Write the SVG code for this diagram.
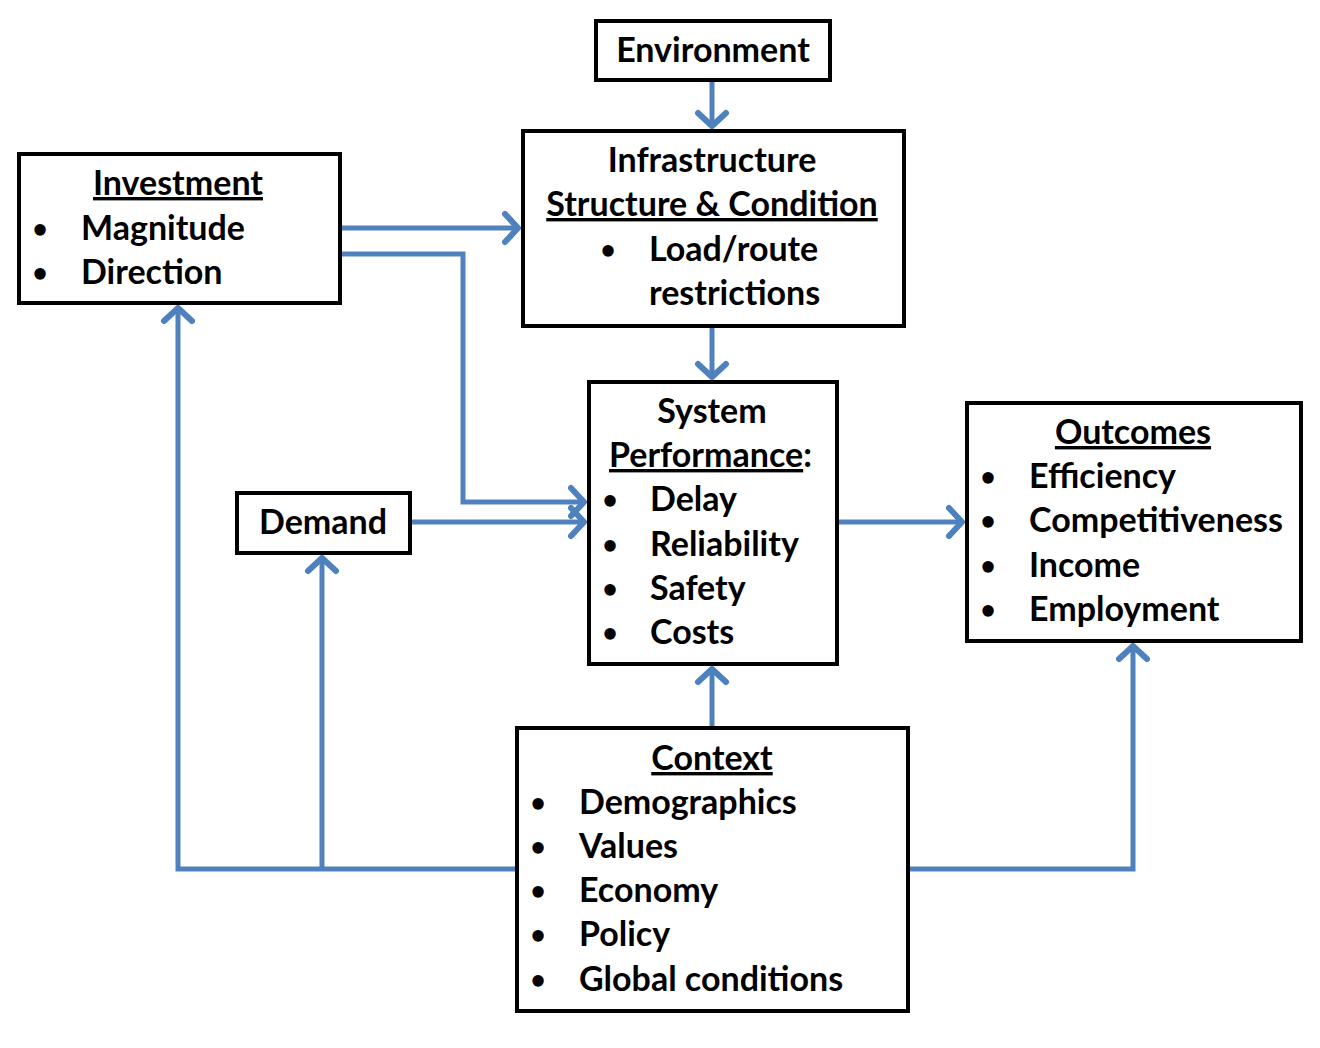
<svg xmlns="http://www.w3.org/2000/svg" width="1320" height="1048" viewBox="0 0 1320 1048">
<defs>
<style>
.box{fill:#fff;stroke:#000;stroke-width:4}
text{font-family:Lato,"Open Sans",sans-serif;font-weight:bold;font-size:34px;fill:#000}
.c{text-anchor:middle}
.u{text-decoration:underline}
.b{font-size:26px;text-anchor:middle}
.con{fill:none;stroke:#4F81BD;stroke-width:5;stroke-linejoin:miter}
</style>
<marker id="ah" markerUnits="userSpaceOnUse" markerWidth="30" markerHeight="40" refX="18" refY="16" orient="auto" viewBox="0 0 30 32">
<polyline points="4,2 17,16 4,30" fill="none" stroke="#4F81BD" stroke-width="6" stroke-linecap="round" stroke-linejoin="round"/>
</marker>
</defs>
<rect width="1320" height="1048" fill="#fff"/>
<g id="connectors">
<path class="con" d="M712,80 V127" marker-end="url(#ah)"/>
<path class="con" d="M340,228 H519" marker-end="url(#ah)"/>
<path class="con" d="M340,254 H463 V502 H585" marker-end="url(#ah)"/>
<path class="con" d="M410,522 H585" marker-end="url(#ah)"/>
<path class="con" d="M712,326 V378" marker-end="url(#ah)"/>
<path class="con" d="M837,522 H963" marker-end="url(#ah)"/>
<path class="con" d="M712,728 V668" marker-end="url(#ah)"/>
<path class="con" d="M517,869 H178 V307" marker-end="url(#ah)"/>
<path class="con" d="M322,869 V557" marker-end="url(#ah)"/>
<path class="con" d="M908,869 H1133 V645" marker-end="url(#ah)"/>
</g>
<g id="environment">
<rect class="box" x="596" y="21" width="234" height="59"/>
<text class="c" x="713" y="62">Environment</text>
</g>
<g id="infrastructure">
<rect class="box" x="523" y="131" width="381" height="195"/>
<text class="c" x="712" y="172">Infrastructure</text>
<text class="c u" x="712" y="216">Structure &amp; Condition</text>
<text class="b" x="608" y="259">•</text>
<text x="649" y="261">Load/route</text>
<text x="649" y="305">restrictions</text>
</g>
<g id="investment">
<rect class="box" x="19" y="154" width="321" height="149"/>
<text class="c u" x="178" y="195">Investment</text>
<text class="b" x="40" y="238">•</text>
<text x="81" y="240">Magnitude</text>
<text class="b" x="40" y="282">•</text>
<text x="81" y="284">Direction</text>
</g>
<g id="demand">
<rect class="box" x="237" y="493" width="173" height="60"/>
<text class="c" x="323" y="534">Demand</text>
</g>
<g id="system-performance">
<rect class="box" x="589" y="382" width="248" height="282"/>
<text class="c" x="712" y="423">System</text>
<text x="609" y="467"><tspan class="u">Performance</tspan>:</text>
<text class="b" x="610" y="509">•</text>
<text x="650" y="511">Delay</text>
<text class="b" x="610" y="554">•</text>
<text x="650" y="556">Reliability</text>
<text class="b" x="610" y="598">•</text>
<text x="650" y="600">Safety</text>
<text class="b" x="610" y="642">•</text>
<text x="650" y="644">Costs</text>
</g>
<g id="outcomes">
<rect class="box" x="967" y="403" width="334" height="238"/>
<text class="c u" x="1133" y="444">Outcomes</text>
<text class="b" x="988" y="486">•</text>
<text x="1029" y="488">Efficiency</text>
<text class="b" x="988" y="530">•</text>
<text x="1029" y="532">Competitiveness</text>
<text class="b" x="988" y="575">•</text>
<text x="1029" y="577">Income</text>
<text class="b" x="988" y="619">•</text>
<text x="1029" y="621">Employment</text>
</g>
<g id="context">
<rect class="box" x="517" y="728" width="391" height="283"/>
<text class="c u" x="712" y="770">Context</text>
<text class="b" x="538" y="812">•</text>
<text x="579" y="814">Demographics</text>
<text class="b" x="538" y="856">•</text>
<text x="579" y="858">Values</text>
<text class="b" x="538" y="900">•</text>
<text x="579" y="902">Economy</text>
<text class="b" x="538" y="944">•</text>
<text x="579" y="946">Policy</text>
<text class="b" x="538" y="989">•</text>
<text x="579" y="991">Global conditions</text>
</g>
</svg>
